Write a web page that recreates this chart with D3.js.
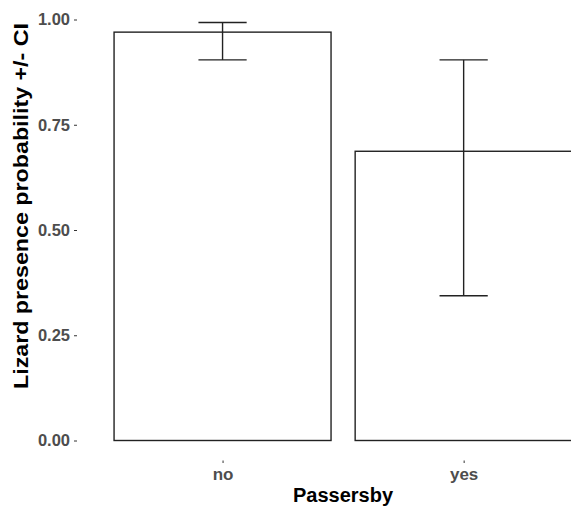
<!DOCTYPE html>
<html>
<head>
<meta charset="utf-8">
<script src="https://cdn.jsdelivr.net/npm/d3@7"></script>
<style>
  body { margin: 0; background: #fff; }
  svg { display: block; font-family: "Liberation Sans", Arial, sans-serif; }
</style>
</head>
<body>
<div id="chart"></div>
<script>
// Bar chart with CI error bars - lizard presence vs passersby

const categories = ["no", "yes"];
const probability = [0.970, 0.687];
const ciLower = [0.904, 0.344];
const ciUpper = [0.993, 0.904];
const yTicks = [0, 0.25, 0.5, 0.75, 1];

const width = 571;
const height = 509;

const data = categories.map((c, i) => ({
    cat: c,
    p: probability[i],
    lo: ciLower[i],
    hi: ciUpper[i]
}));

const svg = d3.select("#chart")
    .append("svg")
    .attr("width", width)
    .attr("height", height);

// discrete x, ggplot-style 0.6 expansion each side (panel runs past the right edge)
const x = d3.scalePoint()
    .domain(categories)
    .range([77.9, 608.3])
    .padding(0.6);

const y = d3.scaleLinear()
    .domain([0, 1])
    .range([440.5, 19.5]);

const step = x.step();
const barW = step * 0.9;
const capW = step * 0.2;

// bars
svg.selectAll("rect.bar")
    .data(data)
    .join("rect")
    .attr("class", "bar")
    .attr("x", d => x(d.cat) - barW / 2)
    .attr("width", barW)
    .attr("y", d => y(d.p))
    .attr("height", d => y(0) - y(d.p))
    .attr("fill", "white")
    .attr("stroke", "#222")
    .attr("stroke-width", 1.4);

// error bars
const err = svg.selectAll("g.err")
    .data(data)
    .join("g")
    .attr("class", "err")
    .attr("stroke", "#222")
    .attr("stroke-width", 1.4);

err.append("line")
    .attr("x1", d => x(d.cat)).attr("x2", d => x(d.cat))
    .attr("y1", d => y(d.lo)).attr("y2", d => y(d.hi));

err.append("line")
    .attr("x1", d => x(d.cat) - capW / 2).attr("x2", d => x(d.cat) + capW / 2)
    .attr("y1", d => y(d.hi)).attr("y2", d => y(d.hi));

err.append("line")
    .attr("x1", d => x(d.cat) - capW / 2).attr("x2", d => x(d.cat) + capW / 2)
    .attr("y1", d => y(d.lo)).attr("y2", d => y(d.lo));

// y axis (no domain line)
const yAxis = svg.append("g")
    .attr("transform", "translate(77, 0)")
    .call(d3.axisLeft(y).tickValues(yTicks).tickFormat(d3.format(".2f")).tickSize(3).tickPadding(4));
yAxis.select(".domain").remove();
yAxis.selectAll(".tick line").attr("stroke", "#333").attr("stroke-width", 1);
yAxis.selectAll(".tick text")
    .attr("fill", "#4d4d4d")
    .style("font-size", "16.5px")
    .style("font-weight", "bold")
    .style("font-family", "'Liberation Sans', Arial, sans-serif");

// x axis
const xAxis = svg.append("g")
    .attr("transform", "translate(0, 460.5)")
    .call(d3.axisBottom(x).tickSize(2.5).tickPadding(5));
xAxis.select(".domain").remove();
xAxis.selectAll(".tick line").attr("stroke", "#333").attr("stroke-width", 1);
xAxis.selectAll(".tick text")
    .attr("fill", "#4d4d4d")
    .style("font-size", "17px")
    .style("font-weight", "bold")
    .style("font-family", "'Liberation Sans', Arial, sans-serif");

// axis titles
svg.append("text")
    .attr("x", 343)
    .attr("y", 502)
    .attr("text-anchor", "middle")
    .style("font-size", "20px")
    .style("font-weight", "bold")
    .text("Passersby");

svg.append("text")
    .attr("transform", "translate(28, 206) rotate(-90)")
    .attr("text-anchor", "middle")
    .attr("textLength", 366)
    .attr("lengthAdjust", "spacingAndGlyphs")
    .style("font-size", "21px")
    .style("font-weight", "bold")
    .text("Lizard presence probability +/- CI");
</script>
</body>
</html>
